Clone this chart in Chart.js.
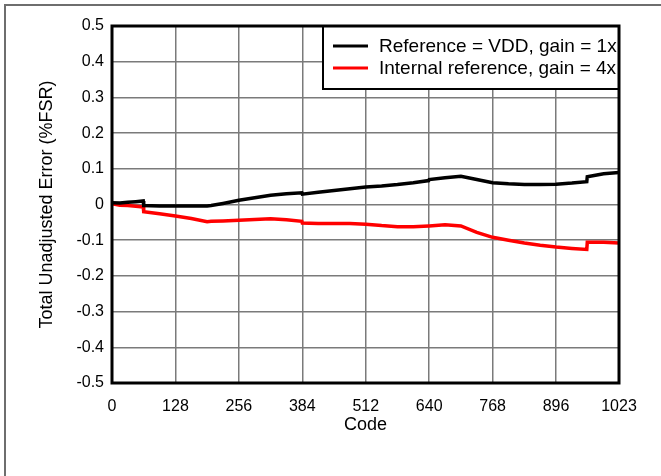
<!DOCTYPE html>
<html>
<head>
<meta charset="utf-8">
<script src="https://cdn.jsdelivr.net/npm/chart.js@4.4.1/dist/chart.umd.min.js"></script>
<style>
  html, body { margin: 0; padding: 0; background: #fff; }
  #wrap { position: relative; width: 661px; height: 476px; overflow: hidden; }
  #frameTop { position: absolute; left: 4px; top: 4px; width: 657px; height: 2px; background: #6e6e6e; }
  #frameLeft { position: absolute; left: 4px; top: 4px; width: 2px; height: 472px; background: #6e6e6e; }
  canvas { position: absolute; left: 0; top: 0; }
</style>
</head>
<body>
<div id="wrap">
  <canvas id="c" width="661" height="476"></canvas>
  <div id="frameTop"></div>
  <div id="frameLeft"></div>
</div>
<script>
// ---- Data ----
const codes = [0, 16, 32, 48, 63, 64, 96, 128, 160, 192, 200, 224, 256, 288, 320, 352, 383, 384,
  416, 448, 480, 512, 544, 576, 608, 639, 640, 672, 704, 736, 768, 800, 832, 864, 896, 928, 958, 959, 992, 1023];

const refVddGain1 = [0.005, 0.004, 0.006, 0.008, 0.010, -0.003, -0.004, -0.004, -0.004, -0.004, -0.003, 0.003,
  0.012, 0.019, 0.026, 0.030, 0.033, 0.029, 0.034, 0.039, 0.044, 0.049, 0.052, 0.056, 0.061, 0.067, 0.070,
  0.075, 0.079, 0.070, 0.061, 0.058, 0.056, 0.056, 0.057, 0.060, 0.064, 0.078, 0.086, 0.090];

const intRefGain4 = [0.002, -0.002, -0.003, -0.005, -0.007, -0.020, -0.026, -0.032, -0.039, -0.048, -0.047, -0.046,
  -0.044, -0.042, -0.040, -0.043, -0.047, -0.052, -0.053, -0.053, -0.053, -0.055, -0.059, -0.062, -0.062, -0.060,
  -0.060, -0.057, -0.060, -0.078, -0.092, -0.100, -0.108, -0.114, -0.119, -0.123, -0.126, -0.106, -0.106, -0.108];

const seriesLabels = ['Reference = VDD, gain = 1x', 'Internal reference, gain = 4x'];
const seriesColors = ['#000000', '#ff0000'];

const xTicks = [0, 128, 256, 384, 512, 640, 768, 896, 1023];
const yTicks = [-0.5, -0.4, -0.3, -0.2, -0.1, 0, 0.1, 0.2, 0.3, 0.4, 0.5];

const xTitle = 'Code';
const yTitle = 'Total Unadjusted Error (%FSR)';

// ---- Chart ----
const FONT = 'Liberation Sans, Arial, Helvetica, sans-serif';

const frameAndLegend = {
  id: 'frameAndLegend',
  afterDatasetsDraw(chart) {
    const {ctx, chartArea: a} = chart;
    ctx.save();
    // legend box (top-right, inside plot)
    const lx = 323, ly = a.top, lw = a.right - 323, lh = 63;
    ctx.fillStyle = '#fff';
    ctx.fillRect(lx, ly, lw, lh);
    ctx.lineWidth = 2;
    ctx.strokeStyle = '#000';
    ctx.strokeRect(lx, ly, lw, lh);
    // plot border
    ctx.lineWidth = 3;
    ctx.strokeRect(a.left, a.top, a.right - a.left, a.bottom - a.top);
    ctx.font = '19px ' + FONT;
    ctx.textBaseline = 'middle';
    ctx.textAlign = 'left';
    chart.data.datasets.forEach((ds, i) => {
      const y = ly + 20 + i * 22;
      ctx.strokeStyle = ds.borderColor;
      ctx.lineWidth = 3;
      ctx.beginPath();
      ctx.moveTo(lx + 10, y);
      ctx.lineTo(lx + 45, y);
      ctx.stroke();
      ctx.fillStyle = '#000';
      ctx.fillText(ds.label, lx + 56, y + 1);
    });
    ctx.restore();
  }
};

new Chart(document.getElementById('c'), {
  type: 'line',
  data: {
    datasets: [
      {
        label: seriesLabels[0],
        data: codes.map((c, i) => ({x: c, y: refVddGain1[i]})),
        borderColor: seriesColors[0], borderWidth: 3.5, pointRadius: 0, tension: 0, fill: false
      },
      {
        label: seriesLabels[1],
        data: codes.map((c, i) => ({x: c, y: intRefGain4[i]})),
        borderColor: seriesColors[1], borderWidth: 3.5, pointRadius: 0, tension: 0, fill: false
      }
    ]
  },
  options: {
    responsive: false,
    animation: false,
    layout: { padding: { left: 0, top: 26, right: 42, bottom: 0 } },
    plugins: { legend: { display: false }, tooltip: { enabled: false } },
    scales: {
      x: {
        type: 'linear', min: 0, max: 1023,
        afterFit: s => { s.height = 93; },
        afterBuildTicks: s => { s.ticks = xTicks.map(v => ({value: v})); },
        grid: { color: '#7a7a7a', lineWidth: 1.5, drawTicks: false },
        border: { display: false },
        ticks: { color: '#000', font: { family: FONT, size: 16 }, padding: 14, maxRotation: 0, autoSkip: false,
                 callback: v => String(v) },
        title: { display: true, text: xTitle, color: '#000', font: { family: FONT, size: 18 },
                 padding: { top: 0, bottom: 40 } }
      },
      y: {
        type: 'linear', min: -0.5, max: 0.5,
        afterFit: s => { s.width = 112; },
        afterBuildTicks: s => { s.ticks = yTicks.map(v => ({value: v})); },
        grid: { color: '#7a7a7a', lineWidth: 1.5, drawTicks: false },
        border: { display: false },
        ticks: { color: '#000', font: { family: FONT, size: 16 }, padding: 8,
                 callback: v => { const r = Math.round(v * 10) / 10; return r === 0 ? '0' : r.toFixed(1); } },
        title: { display: true, text: yTitle, color: '#000', font: { family: FONT, size: 18 },
                 padding: { top: 36, bottom: 0 } }
      }
    }
  },
  plugins: [frameAndLegend]
});
</script>
</body>
</html>
